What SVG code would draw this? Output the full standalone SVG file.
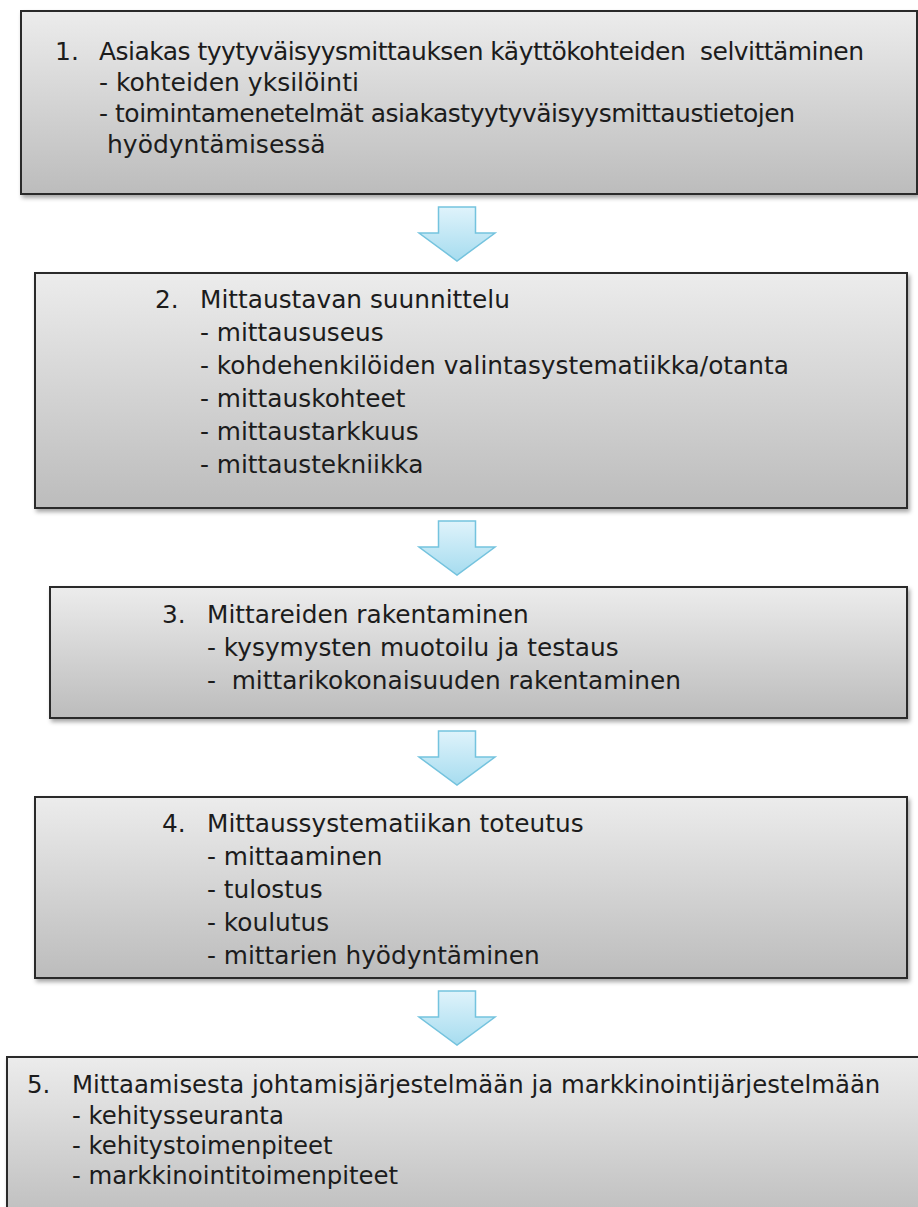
<svg xmlns="http://www.w3.org/2000/svg" width="918" height="1207" viewBox="0 0 918 1207">
<defs>
<linearGradient id="boxfill" x1="0" y1="0" x2="0" y2="1">
<stop offset="0" stop-color="#ececec"/>
<stop offset="1" stop-color="#bcbcbc"/>
</linearGradient>
<linearGradient id="arrowfill" x1="0" y1="0" x2="0" y2="1">
<stop offset="0" stop-color="#dff3fb"/>
<stop offset="1" stop-color="#a6dcef"/>
</linearGradient>
<filter id="shadow" x="-5%" y="-5%" width="110%" height="115%">
<feDropShadow dx="2" dy="3" stdDeviation="2" flood-color="#000" flood-opacity="0.35"/>
</filter>
<path id="arrow" d="M-18.5,0 H18.5 V26 H38 L0,54 L-38,26 H-18.5 Z"/>
</defs>
<style>
.box{fill:url(#boxfill);stroke:#2b2b2b;stroke-width:2;filter:url(#shadow)}
.arr{fill:url(#arrowfill);stroke:#74c3de;stroke-width:1.5;stroke-linejoin:miter}
text{font-family:"DejaVu Sans","Liberation Sans",sans-serif;fill:#1c1c1c;white-space:pre}
.t1{font-size:25px}
.t2{font-size:24.8px}
.t5{font-size:24.4px}
</style>
<rect width="918" height="1207" fill="#ffffff"/>
<g id="connectors">
<use href="#arrow" class="arr" x="457" y="207"/>
<use href="#arrow" class="arr" x="457" y="521"/>
<use href="#arrow" class="arr" x="457" y="731"/>
<use href="#arrow" class="arr" x="457" y="991"/>
</g>
<g id="node1">
<rect class="box" x="21" y="11" width="896" height="183"/>
<text class="t1" x="55" y="60">1.</text>
<text class="t1" x="99" y="60" textLength="765">Asiakas tyytyväisyysmittauksen käyttökohteiden  selvittäminen</text>
<text class="t1" x="99" y="91">- kohteiden yksilöinti</text>
<text class="t1" x="99" y="122" textLength="696">- toimintamenetelmät asiakastyytyväisyysmittaustietojen</text>
<text class="t1" x="107" y="153">hyödyntämisessä</text>
</g>
<g id="node2">
<rect class="box" x="35" y="273" width="872" height="235"/>
<text class="t2" x="155" y="308">2.</text>
<text class="t2" x="200" y="308">Mittaustavan suunnittelu</text>
<text class="t2" x="200" y="341">- mittaususeus</text>
<text class="t2" x="200" y="374">- kohdehenkilöiden valintasystematiikka/otanta</text>
<text class="t2" x="200" y="407">- mittauskohteet</text>
<text class="t2" x="200" y="440">- mittaustarkkuus</text>
<text class="t2" x="200" y="473">- mittaustekniikka</text>
</g>
<g id="node3">
<rect class="box" x="50" y="587" width="857" height="131"/>
<text class="t2" x="162" y="623">3.</text>
<text class="t2" x="207" y="623">Mittareiden rakentaminen</text>
<text class="t2" x="207" y="656">- kysymysten muotoilu ja testaus</text>
<text class="t2" x="207" y="689">-  mittarikokonaisuuden rakentaminen</text>
</g>
<g id="node4">
<rect class="box" x="35" y="797" width="872" height="181"/>
<text class="t2" x="162" y="832">4.</text>
<text class="t2" x="207" y="832">Mittaussystematiikan toteutus</text>
<text class="t2" x="207" y="865">- mittaaminen</text>
<text class="t2" x="207" y="898">- tulostus</text>
<text class="t2" x="207" y="931">- koulutus</text>
<text class="t2" x="207" y="964">- mittarien hyödyntäminen</text>
</g>
<g id="node5">
<rect class="box" x="7" y="1057" width="930" height="170"/>
<text class="t5" x="27" y="1093">5.</text>
<text class="t5" x="72" y="1093">Mittaamisesta johtamisjärjestelmään ja markkinointijärjestelmään</text>
<text class="t5" x="72" y="1124">- kehitysseuranta</text>
<text class="t5" x="72" y="1154">- kehitystoimenpiteet</text>
<text class="t5" x="72" y="1184">- markkinointitoimenpiteet</text>
</g>
</svg>
